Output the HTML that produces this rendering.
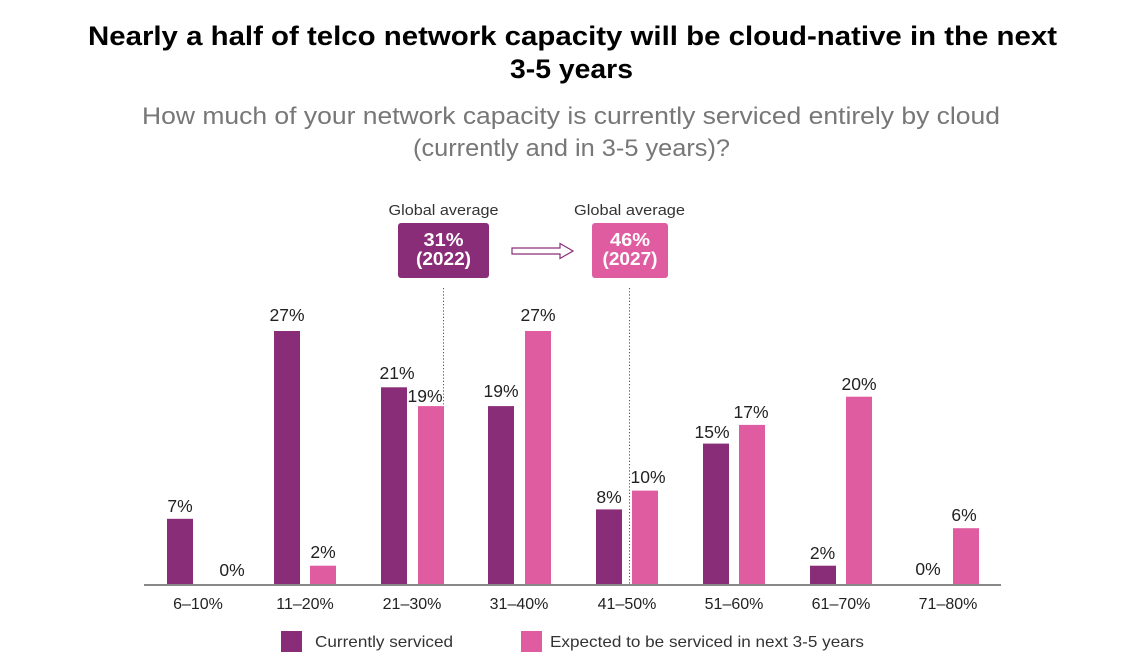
<!DOCTYPE html>
<html>
<head>
<meta charset="utf-8">
<style>
  html, body { margin: 0; padding: 0; background: #ffffff; }
  body { width: 1123px; height: 662px; overflow: hidden; }
  svg { display: block; font-family: "Liberation Sans", sans-serif; }
</style>
</head>
<body>
<svg width="1123" height="662" viewBox="0 0 1123 662" xmlns="http://www.w3.org/2000/svg">
  <rect x="0" y="0" width="1123" height="662" fill="#ffffff"/>

  <!-- Title -->
  <text x="572.5" y="45" text-anchor="middle" font-size="27" font-weight="bold" fill="#000" textLength="969" lengthAdjust="spacingAndGlyphs">Nearly a half of telco network capacity will be cloud-native in the next</text>
  <text x="571.5" y="78" text-anchor="middle" font-size="27" font-weight="bold" fill="#000" textLength="123" lengthAdjust="spacingAndGlyphs">3-5 years</text>

  <!-- Subtitle -->
  <text x="571" y="124" text-anchor="middle" font-size="24" fill="#777777" textLength="858" lengthAdjust="spacingAndGlyphs">How much of your network capacity is currently serviced entirely by cloud</text>
  <text x="571.5" y="156" text-anchor="middle" font-size="24" fill="#777777" textLength="317" lengthAdjust="spacingAndGlyphs">(currently and in 3-5 years)?</text>

  <!-- Global average labels -->
  <text x="443.5" y="215" text-anchor="middle" font-size="15" fill="#333" textLength="110" lengthAdjust="spacingAndGlyphs">Global average</text>
  <text x="629.5" y="215" text-anchor="middle" font-size="15" fill="#333" textLength="111" lengthAdjust="spacingAndGlyphs">Global average</text>

  <!-- Boxes -->
  <rect x="398" y="223" width="91" height="55" rx="3" fill="#8a2d79"/>
  <text x="443.5" y="246" text-anchor="middle" font-size="18" font-weight="bold" fill="#fff" textLength="40" lengthAdjust="spacingAndGlyphs">31%</text>
  <text x="443.5" y="265" text-anchor="middle" font-size="18" font-weight="bold" fill="#fff" textLength="55" lengthAdjust="spacingAndGlyphs">(2022)</text>

  <rect x="592" y="223" width="76" height="55" rx="3" fill="#e05ca0"/>
  <text x="630" y="246" text-anchor="middle" font-size="18" font-weight="bold" fill="#fff" textLength="40" lengthAdjust="spacingAndGlyphs">46%</text>
  <text x="630" y="265" text-anchor="middle" font-size="18" font-weight="bold" fill="#fff" textLength="55" lengthAdjust="spacingAndGlyphs">(2027)</text>

  <!-- Arrow -->
  <polygon points="512,248 560,248 560,243.5 573,251 560,258.5 560,254 512,254" fill="#fff" stroke="#8a2d79" stroke-width="1.2"/>

  <!-- Dotted lines -->
  <line x1="443.5" y1="288" x2="443.5" y2="585" stroke="#555" stroke-width="1" stroke-dasharray="1.2,2"/>
  <line x1="629.5" y1="288" x2="629.5" y2="585" stroke="#555" stroke-width="1" stroke-dasharray="1.2,2"/>

  <!-- Bars: currently serviced -->
  <g fill="#8a2d79">
    <rect x="167" y="518.8" width="26" height="66.2"/>
    <rect x="274" y="331" width="26" height="254"/>
    <rect x="381" y="387.3" width="26" height="197.7"/>
    <rect x="488" y="406.1" width="26" height="178.9"/>
    <rect x="596" y="509.4" width="26" height="75.6"/>
    <rect x="703" y="443.6" width="26" height="141.4"/>
    <rect x="810" y="565.7" width="26" height="19.3"/>
  </g>
  <!-- Bars: expected -->
  <g fill="#e05ca0">
    <rect x="310" y="565.7" width="26" height="19.3"/>
    <rect x="418" y="406.1" width="26" height="178.9"/>
    <rect x="525" y="331" width="26" height="254"/>
    <rect x="632" y="490.6" width="26" height="94.4"/>
    <rect x="739" y="424.9" width="26" height="160.1"/>
    <rect x="846" y="396.7" width="26" height="188.3"/>
    <rect x="953" y="528.2" width="26" height="56.8"/>
  </g>

  <!-- Axis -->
  <line x1="144" y1="585" x2="1001" y2="585" stroke="#888" stroke-width="2"/>

  <!-- Value labels -->
  <g font-size="17.5" fill="#222" text-anchor="middle">
    <text x="180" y="512">7%</text>
    <text x="232" y="576">0%</text>
    <text x="287" y="321">27%</text>
    <text x="323" y="558">2%</text>
    <text x="397" y="379">21%</text>
    <text x="425" y="402">19%</text>
    <text x="501" y="397">19%</text>
    <text x="538" y="321">27%</text>
    <text x="609" y="503">8%</text>
    <text x="648" y="483">10%</text>
    <text x="712" y="438">15%</text>
    <text x="751" y="418">17%</text>
    <text x="822.5" y="559">2%</text>
    <text x="859" y="390">20%</text>
    <text x="928" y="575">0%</text>
    <text x="964" y="521">6%</text>
  </g>

  <!-- X labels -->
  <g font-size="16" fill="#222" text-anchor="middle">
    <text x="198" y="609">6–10%</text>
    <text x="305" y="609">11–20%</text>
    <text x="412" y="609">21–30%</text>
    <text x="519" y="609">31–40%</text>
    <text x="627" y="609">41–50%</text>
    <text x="734" y="609">51–60%</text>
    <text x="841" y="609">61–70%</text>
    <text x="948" y="609">71–80%</text>
  </g>

  <!-- Legend -->
  <rect x="281" y="631" width="21" height="21" fill="#8a2d79"/>
  <text x="315" y="647" font-size="16" fill="#333" textLength="138" lengthAdjust="spacingAndGlyphs">Currently serviced</text>
  <rect x="521" y="631" width="21" height="21" fill="#e05ca0"/>
  <text x="550" y="647" font-size="16" fill="#333" textLength="314" lengthAdjust="spacingAndGlyphs">Expected to be serviced in next 3-5 years</text>
</svg>
</body>
</html>
